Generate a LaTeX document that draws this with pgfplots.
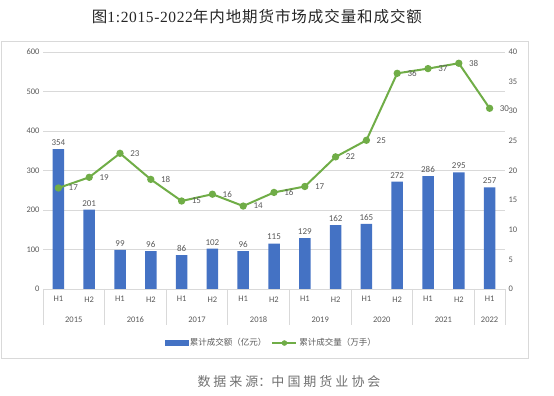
\documentclass[border=0pt]{standalone}
\usepackage{fontspec}
\setmainfont{Carlito}
\newfontfamily\cjk{Noto Sans CJK SC}
\newfontfamily\cjkt[LetterSpace=6]{Noto Sans CJK SC}
\newfontfamily\serif[LetterSpace=4]{Liberation Serif}
\usepackage{pgfplots}
\pgfplotsset{compat=1.18}
\definecolor{barblue}{HTML}{4472C4}
\definecolor{lgreen}{HTML}{70AD47}
\definecolor{txtgray}{HTML}{595959}
\definecolor{srcgray}{HTML}{707070}
\definecolor{gridgray}{HTML}{D9D9D9}
\definecolor{titlec}{HTML}{262626}
\begin{document}
\begin{tikzpicture}
\useasboundingbox (0bp,0bp) rectangle (554bp,396bp);
\draw[gridgray] (1bp,355bp) rectangle (528bp,38bp);
\node[titlec, font=\fontsize{15.5bp}{17bp}\selectfont] at (257bp,379bp) {{\cjkt 图}{\serif 1:2015-2022}{\cjkt 年内地期货市场成交量和成交额}};
\node[srcgray,font=\cjk\fontsize{13bp}{15bp}\selectfont] at (289bp,14bp) {数\hspace{3bp}据\hspace{3bp}来\hspace{3bp}源：中\hspace{3bp}国\hspace{3bp}期\hspace{3bp}货\hspace{3bp}业\hspace{3bp}协\hspace{3bp}会};
\begin{axis}[at={(43bp,107bp)}, anchor=south west, scale only axis, width=462bp, height=237bp,
  xmin=-0.5, xmax=14.5, ymin=0, ymax=600, ytick={0,100,...,600},
  axis y line*=left, axis x line*=bottom,
  ymajorgrids, grid style={gridgray, line width=0.8bp},
  xtick={0,...,14}, xticklabels={H1,H2,H1,H2,H1,H2,H1,H2,H1,H2,H1,H2,H1,H2,H1},
  xtick style={draw=none}, ytick style={draw=none},
  x axis line style={gridgray, line width=0.8bp, -}, y axis line style={draw=none},
  tick label style={txtgray, font=\fontsize{8.5bp}{10bp}\selectfont},
  xticklabel style={yshift=-4bp},
  /pgf/number format/assume math mode=true,
  clip=false,
  legend style={at={(0.494,-0.228)}, anchor=center, draw=none, fill=none, legend columns=2,
    font=\cjk\fontsize{8.5bp}{10bp}\selectfont, text=txtgray, /tikz/every even column/.append style={column sep=3bp}},
]
\addplot[ybar, bar width=11.5bp, fill=barblue, draw=none, nodes near coords,
  nodes near coords style={txtgray, font=\fontsize{9bp}{10bp}\selectfont}, forget plot]
  coordinates {(0,354) (1,201) (2,99) (3,96) (4,86) (5,102) (6,96) (7,115) (8,129) (9,162) (10,165) (11,272) (12,286) (13,295) (14,257)};
\addlegendimage{legend image code/.code={\fill[barblue] (0bp,-2.5bp) rectangle (23bp,2.5bp);}}
\addlegendimage{legend image code/.code={\draw[lgreen, line width=2bp] (0bp,0bp) -- (24bp,0bp); \fill[lgreen] (12bp,0bp) circle (2.5bp);}}
\legend{累计成交额（亿元）,累计成交量（万手）}
\foreach \xx in {-0.5,1.5,3.5,5.5,7.5,9.5,11.5,13.5,14.5} {
  \edef\tmp{\noexpand\draw[gridgray, line width=0.8bp] (axis cs:\xx,0) -- ([yshift=-36bp]axis cs:\xx,0);}
  \tmp
}
\node[txtgray, font=\fontsize{8.5bp}{10bp}\selectfont] at ([yshift=-31bp]axis cs:0.5,0) {2015};
\node[txtgray, font=\fontsize{8.5bp}{10bp}\selectfont] at ([yshift=-31bp]axis cs:2.5,0) {2016};
\node[txtgray, font=\fontsize{8.5bp}{10bp}\selectfont] at ([yshift=-31bp]axis cs:4.5,0) {2017};
\node[txtgray, font=\fontsize{8.5bp}{10bp}\selectfont] at ([yshift=-31bp]axis cs:6.5,0) {2018};
\node[txtgray, font=\fontsize{8.5bp}{10bp}\selectfont] at ([yshift=-31bp]axis cs:8.5,0) {2019};
\node[txtgray, font=\fontsize{8.5bp}{10bp}\selectfont] at ([yshift=-31bp]axis cs:10.5,0) {2020};
\node[txtgray, font=\fontsize{8.5bp}{10bp}\selectfont] at ([yshift=-31bp]axis cs:12.5,0) {2021};
\node[txtgray, font=\fontsize{8.5bp}{10bp}\selectfont] at ([yshift=-31bp]axis cs:14,0) {2022};
\end{axis}
\begin{axis}[at={(43bp,107bp)}, anchor=south west, scale only axis, width=462bp, height=237bp,
  xmin=-0.5, xmax=14.5, ymin=0, ymax=40, ytick={0,5,...,40},
  axis y line*=right, axis x line=none,
  ytick style={draw=none}, y axis line style={draw=none},
  tick label style={txtgray, font=\fontsize{8.5bp}{10bp}\selectfont},
  /pgf/number format/assume math mode=true,
  clip=false,
]
\addplot[lgreen, line width=2bp, mark=*, mark size=2.6bp, mark options={fill=lgreen, draw=lgreen},
  point meta=explicit symbolic, nodes near coords,
  nodes near coords style={txtgray, font=\fontsize{9bp}{10bp}\selectfont, anchor=west, xshift=6bp, yshift=0bp}]
  coordinates {(0,17.05)[17] (1,18.85)[19] (2,22.9)[23] (3,18.5)[18] (4,14.85)[15] (5,16.0)[16] (6,14.0)[14] (7,16.3)[16] (8,17.3)[17] (9,22.3)[22] (10,25.1)[25] (11,36.4)[36] (12,37.2)[37] (13,38.1)[38] (14,30.5)[30]};
\end{axis}
\end{tikzpicture}
\end{document}
